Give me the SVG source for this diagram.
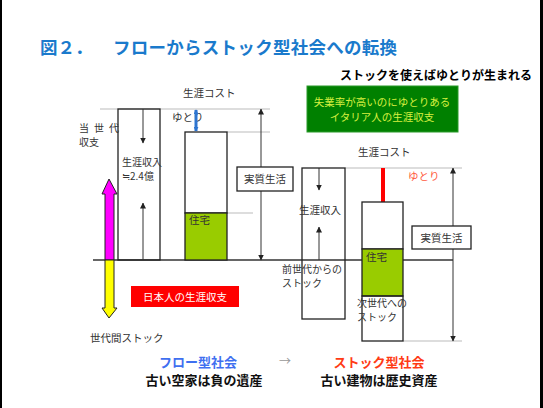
<svg xmlns="http://www.w3.org/2000/svg" width="543" height="408" viewBox="0 0 543 408">
<defs>
<marker id="ah" viewBox="0 0 6 6" refX="5.5" refY="3" markerWidth="6" markerHeight="6" markerUnits="userSpaceOnUse" orient="auto-start-reverse">
<path d="M0,0 L6,3 L0,6 z" fill="#222"/>
</marker>
<marker id="bh" viewBox="0 0 6 6" refX="5" refY="3" markerWidth="5" markerHeight="5" markerUnits="userSpaceOnUse" orient="auto-start-reverse">
<path d="M0,0 L6,3 L0,6 z" fill="#2e75d0"/>
</marker>
</defs>
<style>
text{font-family:"Noto Sans CJK JP","Noto Sans",sans-serif;}
.lbl{font-size:10.5px;fill:#333;}
.sm{font-size:10px;fill:#333;}
.box{fill:#fff;stroke:#222;stroke-width:1.3;}
.green{fill:#99cc00;stroke:#222;stroke-width:1.3;}
.guide{stroke:#bbb;stroke-width:1;fill:none;}
.ln{stroke:#333;stroke-width:1;fill:none;}
.b{font-weight:bold;}
</style>
<rect x="0" y="0" width="543" height="408" fill="#fff"/>
<rect x="0" y="0" width="2" height="408" fill="#000"/>
<rect x="540" y="0" width="3" height="408" fill="#000"/>

<text x="40" y="54" font-size="17.5" class="b" fill="#1a7acc">図２．</text>
<text x="113" y="54" font-size="17.5" class="b" fill="#1a7acc" textLength="284">フローからストック型社会への転換</text>
<text x="340" y="80" font-size="12" class="b" fill="#000">ストックを使えばゆとりが生まれる</text>

<g id="guides">
<line class="guide" x1="100" y1="109" x2="270" y2="109"/>
<line class="guide" x1="227" y1="132" x2="270" y2="132"/>
<line class="guide" x1="227" y1="213" x2="253" y2="213"/>
<line class="guide" x1="345" y1="168" x2="462" y2="168"/>
<line class="guide" x1="403" y1="341" x2="462" y2="341"/>
</g>

<g id="ground">
<line x1="93" y1="260" x2="453" y2="260" stroke="#333" stroke-width="1.3"/>
</g>

<g id="left-income">
<rect class="box" x="118" y="109" width="42" height="151" style="fill:none"/>
<text class="sm" x="122" y="166">生涯収入</text>
<text class="sm" x="122" y="180">≒2.4億</text>
</g>

<g id="left-cost">
<rect class="box" x="185" y="132" width="42" height="81"/>
<rect class="green" x="185" y="213" width="42" height="47"/>
<text class="lbl" x="189" y="224">住宅</text>
<text class="lbl" x="183" y="97">生涯コスト</text>
<text class="lbl" x="172" y="121">ゆとり</text>
</g>

<g id="left-labels">
<text class="sm" x="79" y="132">当</text>
<text class="sm" x="94" y="132">世</text>
<text class="sm" x="109" y="132">代</text>
<text class="sm" x="79" y="146">収支</text>
<text class="lbl" x="90" y="342">世代間ストック</text>
</g>

<g id="stock-arrow">
<polygon points="109,179 117,194 114,194 114,260 105,260 105,194 102,194" fill="#ff00ff" stroke="#222" stroke-width="1"/>
<polygon points="105,260 114,260 114,308 117,308 109,318 102,308 105,308" fill="#ffff00" stroke="#222" stroke-width="1"/>
</g>

<g id="japan-label">
<rect x="131" y="286" width="108" height="21" fill="#ff0000"/>
<text x="185" y="301" font-size="10.5" fill="#fff" text-anchor="middle">日本人の生涯収支</text>
</g>

<g id="connectors">
<line class="ln" x1="143" y1="109" x2="143" y2="143" marker-end="url(#ah)"/>
<line class="ln" x1="143" y1="260" x2="143" y2="203" marker-end="url(#ah)"/>
<line x1="196" y1="110" x2="196" y2="131" stroke="#2e75d0" stroke-width="3" marker-start="url(#bh)" marker-end="url(#bh)"/>
<line class="ln" x1="261" y1="109" x2="261" y2="260" marker-start="url(#ah)" marker-end="url(#ah)"/>
<line class="ln" x1="319" y1="168" x2="319" y2="190" marker-end="url(#ah)"/>
<line class="ln" x1="319" y1="260" x2="319" y2="227" marker-end="url(#ah)"/>
<line class="ln" x1="453" y1="168" x2="453" y2="341" marker-start="url(#ah)" marker-end="url(#ah)"/>
<line x1="383" y1="168" x2="383" y2="202" stroke="#ff0000" stroke-width="4"/>
</g>

<g id="left-real">
<rect class="box" x="237" y="167" width="56" height="24"/>
<text class="lbl" x="265" y="183" text-anchor="middle">実質生活</text>
</g>

<g id="italy-label">
<rect x="307" y="86" width="151" height="46" fill="#008000" stroke="#2a9a2a" stroke-width="1"/>
<text x="382" y="106" font-size="10.5" fill="#d8f040" text-anchor="middle">失業率が高いのにゆとりある</text>
<text x="382" y="121" font-size="10.5" fill="#d8f040" text-anchor="middle">イタリア人の生涯収支</text>
</g>

<g id="right-income">
<rect class="box" x="302" y="168" width="43" height="151" style="fill:none"/>
<text class="lbl" x="299" y="214">生涯収入</text>
<text class="sm" x="282" y="273">前世代からの</text>
<text class="sm" x="282" y="287">ストック</text>
</g>

<g id="right-cost">
<rect class="box" x="362" y="202" width="41" height="47"/>
<rect class="green" x="362" y="249" width="41" height="47"/>
<rect class="box" x="362" y="296" width="41" height="45" style="fill:none"/>
<text class="lbl" x="366" y="261">住宅</text>
<text class="sm" x="357" y="307">次世代への</text>
<text class="sm" x="357" y="321">ストック</text>
<text class="lbl" x="358" y="156">生涯コスト</text>
<text x="408" y="180" font-size="10.5" fill="#ff5a3c">ゆとり</text>
</g>

<g id="right-real">
<rect class="box" x="412" y="226" width="59" height="23"/>
<text class="lbl" x="441.5" y="242" text-anchor="middle">実質生活</text>
</g>

<g id="footer">
<text x="198" y="367" font-size="13" class="b" fill="#3f6ff0" text-anchor="middle">フロー型社会</text>
<text x="285" y="366" font-size="12" fill="#999" text-anchor="middle">→</text>
<text x="379" y="367" font-size="13" class="b" fill="#ff3a14" text-anchor="middle">ストック型社会</text>
<text x="204" y="385" font-size="13" class="b" fill="#111" text-anchor="middle">古い空家は負の遺産</text>
<text x="379" y="385" font-size="13" class="b" fill="#111" text-anchor="middle">古い建物は歴史資産</text>
</g>
</svg>
